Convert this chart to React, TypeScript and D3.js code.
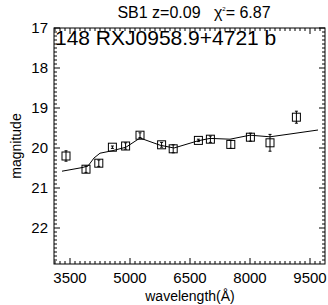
import * as d3 from "d3";
import { useEffect, useRef } from "react";

// photometry points: wavelength (Å), magnitude, error
const wave = [3400, 3900, 4220, 4560, 4890, 5250, 5790, 6080, 6710, 7010, 7520, 8010, 8500, 9160];
const mag = [20.2, 20.53, 20.38, 19.98, 19.95, 19.68, 19.92, 20.02, 19.81, 19.78, 19.91, 19.73, 19.87, 19.23];
const err = [0.13, 0.08, 0.08, 0.03, 0.08, 0.06, 0.06, 0.1, 0.03, 0.08, 0.1, 0.1, 0.21, 0.15];

// model template curve
const modelWave = [3300, 3800, 3950, 4100, 4250, 4550, 4900, 5250, 5750, 6100, 6700, 7000, 7500, 8000, 8500, 9000, 9700];
const modelMag = [20.58, 20.49, 20.45, 20.25, 20.13, 20.07, 19.98, 19.75, 19.93, 20.0, 19.82, 19.76, 19.78, 19.68, 19.72, 19.65, 19.55];

const xTicks = [3500, 5000, 6500, 8000, 9500];
const yTicks = [17, 18, 19, 20, 21, 22];

export default function App() {
  const ref = useRef<SVGSVGElement>(null);

  useEffect(() => {
    const width = 328;
    const height = 305;
    const left = 54, right = 325, top = 28, bottom = 264;
    const font = "Liberation Sans, Arial, sans-serif";

    const svg = d3.select(ref.current);
    svg.selectAll("*").remove();
    svg.attr("width", width).attr("height", height);
    svg.append("rect").attr("width", width).attr("height", height).attr("fill", "#fff");

    const x = d3.scaleLinear().domain([3100, 9875]).range([left, right]);
    const y = d3.scaleLinear().domain([17, 22.9]).range([top, bottom]);

    const g = svg.append("g");

    // frame
    g.append("rect")
      .attr("x", left).attr("y", top)
      .attr("width", right - left).attr("height", bottom - top)
      .attr("fill", "none").attr("stroke", "#000").attr("stroke-width", 1);

    // x ticks, bottom and top, pointing inward
    const xMinor = d3.range(3125, 9875, 125);
    xMinor.forEach(v => {
      const major = xTicks.includes(v);
      const len = major ? 6 : 3;
      g.append("line").attr("x1", x(v)).attr("x2", x(v))
        .attr("y1", bottom).attr("y2", bottom - len).attr("stroke", "#000");
      g.append("line").attr("x1", x(v)).attr("x2", x(v))
        .attr("y1", top).attr("y2", top + len).attr("stroke", "#000");
    });

    // y ticks, left and right
    const yMinor = d3.range(170, 229).map(v => v / 10);
    yMinor.forEach(v => {
      const major = Math.abs(v - Math.round(v)) < 1e-6;
      const len = major ? 6 : 3;
      g.append("line").attr("x1", left).attr("x2", left + len)
        .attr("y1", y(v)).attr("y2", y(v)).attr("stroke", "#000");
      g.append("line").attr("x1", right).attr("x2", right - len)
        .attr("y1", y(v)).attr("y2", y(v)).attr("stroke", "#000");
    });

    g.selectAll(".xl").data(xTicks).enter().append("text")
      .attr("x", d => x(d)).attr("y", bottom + 19)
      .attr("text-anchor", "middle")
      .attr("font-family", font).attr("font-size", 15)
      .text(d => d);

    g.selectAll(".yl").data(yTicks).enter().append("text")
      .attr("x", left - 6).attr("y", d => y(d) + 5)
      .attr("text-anchor", "end")
      .attr("font-family", font).attr("font-size", 15)
      .text(d => d);

    // model line
    const line = d3.line<number>()
      .x((_, i) => x(modelWave[i]))
      .y(d => y(d));
    g.append("path").datum(modelMag)
      .attr("d", line)
      .attr("fill", "none").attr("stroke", "#000").attr("stroke-width", 1);

    // data points
    const pts = g.selectAll(".pt").data(wave).enter().append("g");
    pts.append("rect")
      .attr("x", (d) => x(d) - 4).attr("y", (_, i) => y(mag[i]) - 4)
      .attr("width", 8).attr("height", 8)
      .attr("fill", "none").attr("stroke", "#000").attr("stroke-width", 1);
    pts.append("line")
      .attr("x1", d => x(d)).attr("x2", d => x(d))
      .attr("y1", (_, i) => y(mag[i] - err[i])).attr("y2", (_, i) => y(mag[i] + err[i]))
      .attr("stroke", "#000");
    [-1, 1].forEach(s => {
      pts.append("line")
        .attr("x1", d => x(d) - 1.5).attr("x2", d => x(d) + 1.5)
        .attr("y1", (_, i) => y(mag[i] + s * err[i])).attr("y2", (_, i) => y(mag[i] + s * err[i]))
        .attr("stroke", "#000");
    });

    // labels
    g.append("text")
      .attr("x", 55).attr("y", 45)
      .attr("font-family", font).attr("font-size", 21)
      .text("148 RXJ0958.9+4721 b");

    const title = g.append("text")
      .attr("x", 194).attr("y", 18)
      .attr("text-anchor", "middle")
      .attr("font-family", font).attr("font-size", 16);
    title.append("tspan").text("SB1 z=0.09\u00a0\u00a0\u00a0\u03c7");
    title.append("tspan").attr("font-size", 6).attr("dy", -7).text("2");
    title.append("tspan").attr("dy", 7).text("= 6.87");

    g.append("text")
      .attr("x", 190).attr("y", 301)
      .attr("text-anchor", "middle")
      .attr("font-family", font).attr("font-size", 14)
      .text("wavelength(\u00c5)");

    g.append("text")
      .attr("transform", `translate(21,${(top + bottom) / 2}) rotate(-90)`)
      .attr("text-anchor", "middle")
      .attr("font-family", font).attr("font-size", 14)
      .text("magnitude");
  }, []);

  return (
    <div style={{ position: "absolute", left: 0, top: 0 }}>
      <svg ref={ref} style={{ display: "block" }} />
    </div>
  );
}
